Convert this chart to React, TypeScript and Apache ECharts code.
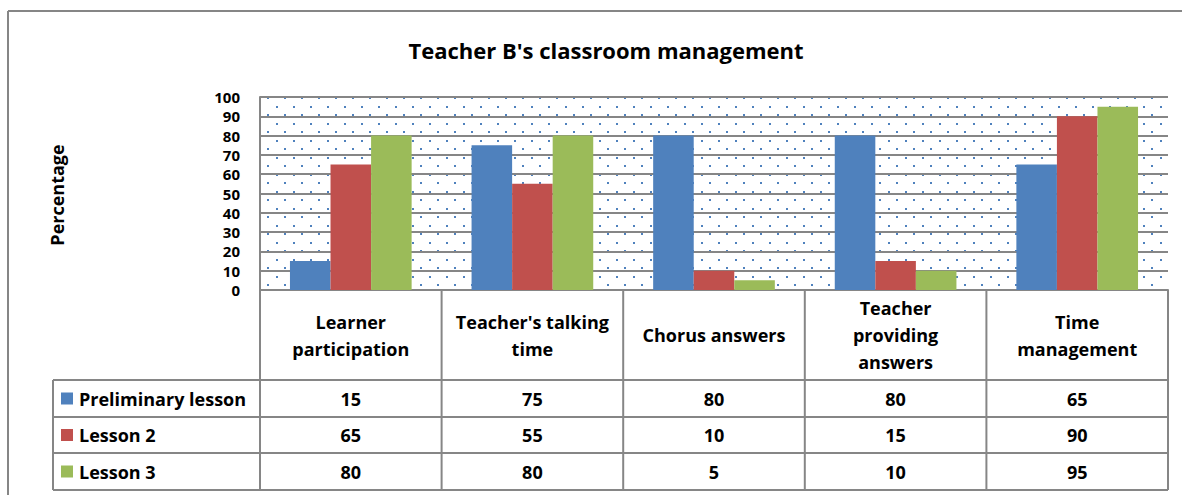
import React, { useEffect, useRef } from "react";
import * as echarts from "echarts";

const categories = [
  "Learner\nparticipation",
  "Teacher's talking\ntime",
  "Chorus answers",
  "Teacher\nproviding\nanswers",
  "Time\nmanagement",
];
const seriesNames = ["Preliminary lesson", "Lesson 2", "Lesson 3"];
const preliminary = [15, 75, 80, 80, 65];
const lesson2 = [65, 55, 10, 15, 90];
const lesson3 = [80, 80, 5, 10, 95];
const yTicks = [0, 10, 20, 30, 40, 50, 60, 70, 80, 90, 100];
const colors = ["#4f81bd", "#c0504d", "#9bbb59"];

const W = 1182;
const H = 495;
const GL = 260;
const GR = 1168;
const GT = 97;
const GB = 290;
const FONT = "'Open Sans', sans-serif";

function makePattern() {
  const c = document.createElement("canvas");
  c.width = 17;
  c.height = 17;
  const ctx = c.getContext("2d");
  if (ctx) {
    ctx.fillStyle = "#ffffff";
    ctx.fillRect(0, 0, 17, 17);
    ctx.fillStyle = "#4f81bd";
    ctx.fillRect(4, 4, 2, 2);
    ctx.fillRect(12, 12, 2, 2);
  }
  return { image: c, repeat: "repeat" } as any;
}

export default function App() {
  const ref = useRef<HTMLDivElement>(null);
  useEffect(() => {
    if (!ref.current) return;
    const chart = echarts.init(ref.current, null, { renderer: "svg" });
    const allSeries = [preliminary, lesson2, lesson3];
    const catW = (GR - GL) / categories.length;
    const gray = "#868686";
    const rowYs = [380, 417, 453, 490];
    const graphics: any[] = [];
    // frame
    graphics.push({ type: "line", shape: { x1: 8, y1: 11, x2: W, y2: 11 }, style: { stroke: gray, lineWidth: 2 } });
    graphics.push({ type: "line", shape: { x1: 8, y1: 11, x2: 8, y2: H }, style: { stroke: gray, lineWidth: 2 } });
    // table vertical lines
    for (let i = 0; i <= categories.length; i++) {
      const x = GL + i * catW;
      graphics.push({ type: "line", shape: { x1: x, y1: GB, x2: x, y2: 490 }, style: { stroke: gray, lineWidth: 2 } });
    }
    graphics.push({ type: "line", shape: { x1: 53, y1: 380, x2: 53, y2: 490 }, style: { stroke: gray, lineWidth: 2 } });
    rowYs.forEach((y) => {
      graphics.push({ type: "line", shape: { x1: 53, y1: y, x2: GR, y2: y }, style: { stroke: gray, lineWidth: 2 } });
    });
    // category headers
    categories.forEach((c, i) => {
      graphics.push({
        type: "text",
        x: GL + (i + 0.5) * catW,
        y: (GB + 380) / 2,
        style: {
          text: c,
          font: `bold 18px ${FONT}`,
          fill: "#000",
          align: "center",
          verticalAlign: "middle",
          lineHeight: 27,
        },
      });
    });
    // rows
    seriesNames.forEach((n, r) => {
      const cy = (rowYs[r] + rowYs[r + 1]) / 2;
      graphics.push({ type: "rect", shape: { x: 61, y: cy - 6, width: 12, height: 12 }, style: { fill: colors[r] } });
      graphics.push({
        type: "text",
        x: 79,
        y: cy,
        style: { text: n, font: `bold 18px ${FONT}`, fill: "#000", align: "left", verticalAlign: "middle" },
      });
      allSeries[r].forEach((v, i) => {
        graphics.push({
          type: "text",
          x: GL + (i + 0.5) * catW,
          y: cy,
          style: { text: String(v), font: `bold 18px ${FONT}`, fill: "#000", align: "center", verticalAlign: "middle" },
        });
      });
    });
    // y axis name
    graphics.push({
      type: "text",
      x: 57,
      y: 195,
      rotation: Math.PI / 2,
      style: { text: "Percentage", font: `bold 18px ${FONT}`, fill: "#000", align: "center", verticalAlign: "middle" },
    });

    chart.setOption({
      animation: false,
      backgroundColor: "#ffffff",
      title: {
        text: "Teacher B's classroom management",
        left: 601,
        textAlign: "center",
        top: 34,
        textStyle: { fontFamily: FONT, fontWeight: "bold", fontSize: 22, color: "#000" },
      },
      grid: {
        left: GL,
        right: W - GR,
        top: GT,
        bottom: H - GB,
        show: true,
        backgroundColor: makePattern(),
        borderWidth: 0,
      },
      xAxis: {
        type: "category",
        data: categories,
        axisLabel: { show: false },
        axisTick: { show: false },
        axisLine: { show: true, lineStyle: { color: gray, width: 2 } },
      },
      yAxis: {
        type: "value",
        min: yTicks[0],
        max: yTicks[yTicks.length - 1],
        interval: 10,
        axisLine: { show: true, lineStyle: { color: gray, width: 2 } },
        axisTick: { show: false },
        axisLabel: {
          fontFamily: FONT,
          fontWeight: "bold",
          fontSize: 15,
          lineHeight: 15,
          color: "#000",
          margin: 20,
        },
        splitLine: { show: true, lineStyle: { color: gray, width: 2 } },
      },
      series: allSeries.map((d, i) => ({
        name: seriesNames[i],
        type: "bar",
        data: d,
        barGap: "0%",
        barCategoryGap: "33%",
        itemStyle: { color: colors[i] },
      })),
      graphic: graphics,
    });
    return () => chart.dispose();
  }, []);
  return (
    <div
      ref={ref}
      style={{ position: "fixed", left: 0, top: 0, width: W, height: H, background: "#fff" }}
    />
  );
}
